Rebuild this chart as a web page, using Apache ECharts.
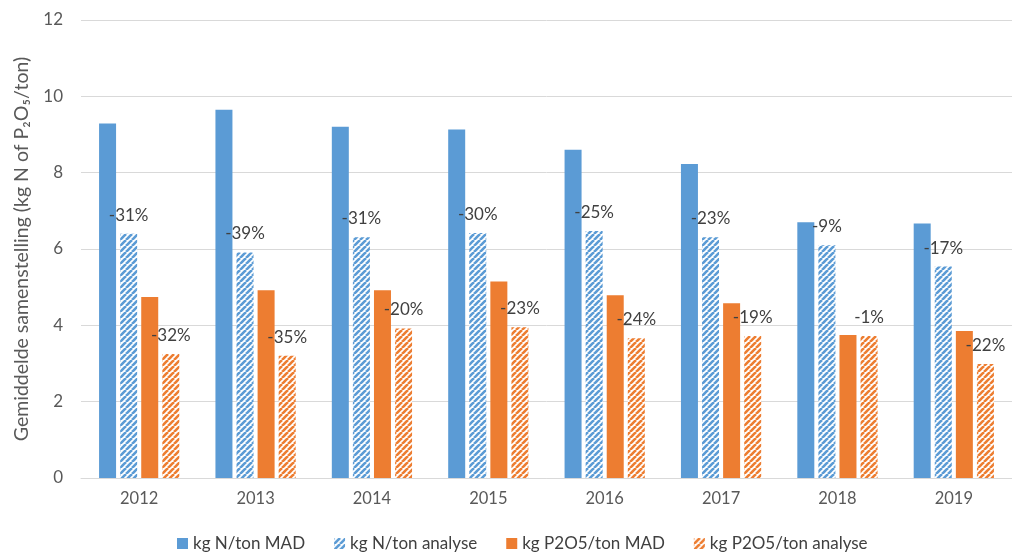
<!DOCTYPE html>
<html><head><meta charset="utf-8">
<script src="https://cdn.jsdelivr.net/npm/echarts@6/dist/echarts.min.js"></script>
<style>html,body{margin:0;padding:0;background:#fff}#c{width:1012px;height:552px}</style>
</head><body><div id="c"></div>
<script>
const years = ['2012','2013','2014','2015','2016','2017','2018','2019'];
const nMad = [9.29, 9.65, 9.20, 9.13, 8.60, 8.23, 6.70, 6.67];
const nAnalyse = [6.40, 5.91, 6.31, 6.42, 6.47, 6.31, 6.10, 5.54];
const pMad = [4.74, 4.92, 4.92, 5.15, 4.79, 4.58, 3.75, 3.85];
const pAnalyse = [3.25, 3.20, 3.92, 3.95, 3.66, 3.72, 3.72, 2.99];
const nPct = ['-31%','-39%','-31%','-30%','-25%','-23%','-9%','-17%'];
const pPct = ['-32%','-35%','-20%','-23%','-24%','-19%','-1%','-22%'];
const seriesNames = ['kg N/ton MAD','kg N/ton analyse','kg P2O5/ton MAD','kg P2O5/ton analyse'];

const BLUE = '#5b9bd5', ORANGE = '#ed7d31';
function hatch(color){
  const s = 6, c = document.createElement('canvas');
  c.width = s; c.height = s;
  const g = c.getContext('2d');
  g.fillStyle = '#ffffff'; g.fillRect(0,0,s,s);
  g.strokeStyle = color; g.lineWidth = 2.6;
  for (const o of [-s, 0, s]) {
    g.beginPath(); g.moveTo(o, s); g.lineTo(o + s, 0); g.stroke();
  }
  return {image: c, repeat: 'repeat'};
}
const FONT = 'Lato';
const chart = echarts.init(document.getElementById('c'));
const lbl = arr => ({show:true, position:'top', distance:10, color:'#404040', fontSize:17, fontFamily:FONT,
  formatter: p => arr[p.dataIndex]});
chart.setOption({
  animation:false,
  textStyle:{fontFamily:FONT},
  grid:{left:81, top:20, width:944, height:458},
  legend:{bottom:-5, left:172, itemWidth:11, itemHeight:11, itemGap:29, icon:'rect',
    textStyle:{fontSize:17, color:'#404040', fontFamily:FONT}, data:seriesNames},
  xAxis:{type:'category', data:years, axisTick:{show:false},
    axisLine:{lineStyle:{color:'#d9d9d9', width:1}},
    axisLabel:{color:'#595959', fontSize:16.5, margin:12, fontFamily:FONT}},
  yAxis:{type:'value', min:0, max:12, interval:2,
    name:'Gemiddelde samenstelling (kg N of P₂O₅/ton)', nameLocation:'middle', nameGap:49,
    nameTextStyle:{color:'#595959', fontSize:19.5, fontFamily:FONT},
    axisLine:{show:false}, axisTick:{show:false},
    axisLabel:{color:'#595959', fontSize:17, margin:18, fontFamily:FONT},
    splitLine:{lineStyle:{color:'#d9d9d9', width:1}}},
  series:[
    {name:seriesNames[0], type:'bar', data:nMad, barWidth:17, barGap:'24%', itemStyle:{color:BLUE}},
    {name:seriesNames[1], type:'bar', data:nAnalyse, barWidth:17, barGap:'24%', itemStyle:{color:hatch(BLUE)}, label:lbl(nPct)},
    {name:seriesNames[2], type:'bar', data:pMad, barWidth:17, barGap:'24%', itemStyle:{color:ORANGE}},
    {name:seriesNames[3], type:'bar', data:pAnalyse, barWidth:17, barGap:'24%', itemStyle:{color:hatch(ORANGE)}, label:lbl(pPct)}
  ]
});
</script></body></html>
